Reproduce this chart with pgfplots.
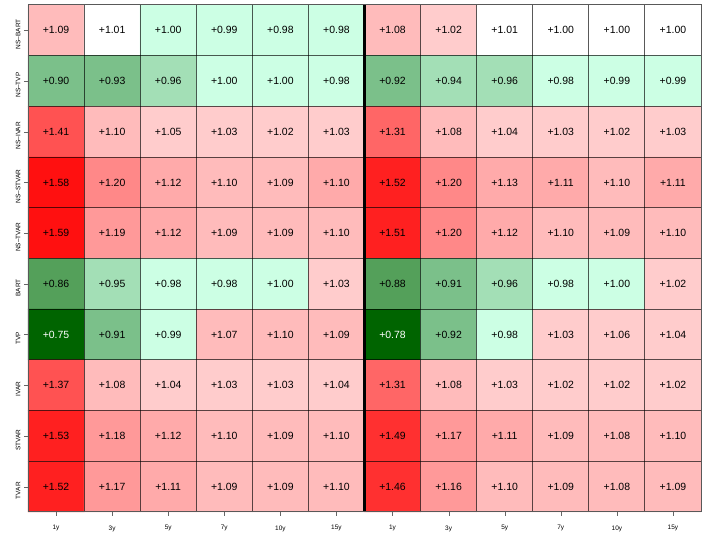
\documentclass[border=0pt]{standalone}
\usepackage{fontspec}
\setmainfont{Liberation Sans}
\usepackage{pgfplots}
\usepackage{pgfplotstable}
\pgfplotsset{compat=1.18}

% x = horizon column (0-11), y = model row (0 = NS-BART at top), v = ratio, c = colour class
\pgfplotstableread[row sep=\\]{
x y v c\\
0 0 1.09 7\\ 1 0 1.01 5\\ 2 0 1.00 4\\ 3 0 0.99 4\\ 4 0 0.98 4\\ 5 0 0.98 4\\ 6 0 1.08 7\\ 7 0 1.02 6\\ 8 0 1.01 5\\ 9 0 1.00 5\\ 10 0 1.00 5\\ 11 0 1.00 5\\
0 1 0.90 2\\ 1 1 0.93 2\\ 2 1 0.96 3\\ 3 1 1.00 4\\ 4 1 1.00 4\\ 5 1 0.98 4\\ 6 1 0.92 2\\ 7 1 0.94 3\\ 8 1 0.96 3\\ 9 1 0.98 4\\ 10 1 0.99 4\\ 11 1 0.99 4\\
0 2 1.41 12\\ 1 2 1.10 7\\ 2 2 1.05 6\\ 3 2 1.03 6\\ 4 2 1.02 6\\ 5 2 1.03 6\\ 6 2 1.31 11\\ 7 2 1.08 7\\ 8 2 1.04 6\\ 9 2 1.03 6\\ 10 2 1.02 6\\ 11 2 1.03 6\\
0 3 1.58 15\\ 1 3 1.20 10\\ 2 3 1.12 8\\ 3 3 1.10 7\\ 4 3 1.09 7\\ 5 3 1.10 8\\ 6 3 1.52 14\\ 7 3 1.20 10\\ 8 3 1.13 8\\ 9 3 1.11 8\\ 10 3 1.10 7\\ 11 3 1.11 8\\
0 4 1.59 15\\ 1 4 1.19 9\\ 2 4 1.12 8\\ 3 4 1.09 7\\ 4 4 1.09 7\\ 5 4 1.10 7\\ 6 4 1.51 14\\ 7 4 1.20 10\\ 8 4 1.12 8\\ 9 4 1.10 7\\ 10 4 1.09 7\\ 11 4 1.10 7\\
0 5 0.86 1\\ 1 5 0.95 3\\ 2 5 0.98 4\\ 3 5 0.98 4\\ 4 5 1.00 4\\ 5 5 1.03 6\\ 6 5 0.88 1\\ 7 5 0.91 2\\ 8 5 0.96 3\\ 9 5 0.98 4\\ 10 5 1.00 4\\ 11 5 1.02 6\\
0 6 0.75 0\\ 1 6 0.91 2\\ 2 6 0.99 4\\ 3 6 1.07 7\\ 4 6 1.10 7\\ 5 6 1.09 7\\ 6 6 0.78 0\\ 7 6 0.92 2\\ 8 6 0.98 4\\ 9 6 1.03 6\\ 10 6 1.06 6\\ 11 6 1.04 6\\
0 7 1.37 12\\ 1 7 1.08 7\\ 2 7 1.04 6\\ 3 7 1.03 6\\ 4 7 1.03 6\\ 5 7 1.04 6\\ 6 7 1.31 11\\ 7 7 1.08 7\\ 8 7 1.03 6\\ 9 7 1.02 6\\ 10 7 1.02 6\\ 11 7 1.02 6\\
0 8 1.53 14\\ 1 8 1.18 9\\ 2 8 1.12 8\\ 3 8 1.10 7\\ 4 8 1.09 7\\ 5 8 1.10 7\\ 6 8 1.49 13\\ 7 8 1.17 9\\ 8 8 1.11 8\\ 9 8 1.09 7\\ 10 8 1.08 7\\ 11 8 1.10 7\\
0 9 1.52 14\\ 1 9 1.17 9\\ 2 9 1.11 8\\ 3 9 1.09 7\\ 4 9 1.09 7\\ 5 9 1.10 7\\ 6 9 1.46 13\\ 7 9 1.16 9\\ 8 9 1.10 7\\ 9 9 1.09 7\\ 10 9 1.08 7\\ 11 9 1.09 7\\
}\cells

\begin{document}
\begin{tikzpicture}
\begin{axis}[
  scale only axis, width=673bp, height=507bp,
  xmin=-0.5, xmax=11.5, ymin=-0.5, ymax=9.5,
  y dir=reverse,
  colormap={cellmap}{rgb255=(0,100,0) rgb255=(84,160,90) rgb255=(123,192,138)
    rgb255=(163,223,182) rgb255=(204,255,228) rgb255=(255,255,255)
    rgb255=(255,204,204) rgb255=(255,187,187) rgb255=(255,170,170)
    rgb255=(255,153,153) rgb255=(255,136,136) rgb255=(255,102,102)
    rgb255=(255,82,82) rgb255=(255,48,48) rgb255=(255,32,32) rgb255=(255,16,16)},
  colormap access=direct,
  xtick={0,...,11},
  xticklabels={1y,3y,5y,7y,10y,15y,1y,3y,5y,7y,10y,15y},
  ytick={0,...,9},
  yticklabels={NS--BART,NS--TVP,NS--IVAR,NS--STVAR,NS--TVAR,BART,TVP,IVAR,STVAR,TVAR},
  tick pos=left, tick align=outside,
  major tick length=4bp,
  tick style={black!60},
  xticklabel style={font=\fontsize{6.5}{8}\selectfont, yshift=-6bp},
  yticklabel style={font=\fontsize{6.5}{8}\selectfont, rotate=90, anchor=south, xshift=-4bp},
  minor xtick={0.5,1.5,2.5,3.5,4.5,6.5,7.5,8.5,9.5,10.5},
  minor ytick={0.5,1.5,...,8.5},
  xminorgrids, yminorgrids,
  minor tick length=0pt,
  minor grid style={black, opacity=0.65, line width=1bp},
  axis line style={black!65, line width=1bp},
  axis on top,
  clip=false,
]
\addplot[matrix plot*, mesh/cols=12, point meta=explicit]
  table[x=x, y=y, meta=c] {\cells};
\addplot[draw=none, mark=none, point meta=explicit,
  x filter/.expression={\thisrow{v}<0.8 ? nan : x},
  nodes near coords={+\pgfmathprintnumber[fixed,fixed zerofill,precision=2,assume math mode=true]{\pgfplotspointmeta}},
  nodes near coords align=center,
  every node near coord/.append style={font=\fontsize{10.5}{12}\selectfont, anchor=center, text=black}]
  table[x=x, y=y, meta=v] {\cells};
\addplot[draw=none, mark=none, point meta=explicit,
  x filter/.expression={\thisrow{v}<0.8 ? x : nan},
  nodes near coords={+\pgfmathprintnumber[fixed,fixed zerofill,precision=2,assume math mode=true]{\pgfplotspointmeta}},
  nodes near coords align=center,
  every node near coord/.append style={font=\fontsize{10.5}{12}\selectfont, anchor=center, text=white}]
  table[x=x, y=y, meta=v] {\cells};
\draw[line width=3bp, black] (axis cs:5.5,-0.5) -- (axis cs:5.5,9.5);
\end{axis}
\path ([xshift=-28bp,yshift=-28bp]current axis.south west) rectangle ([xshift=19bp,yshift=5bp]current axis.north east);
\end{tikzpicture}
\end{document}
